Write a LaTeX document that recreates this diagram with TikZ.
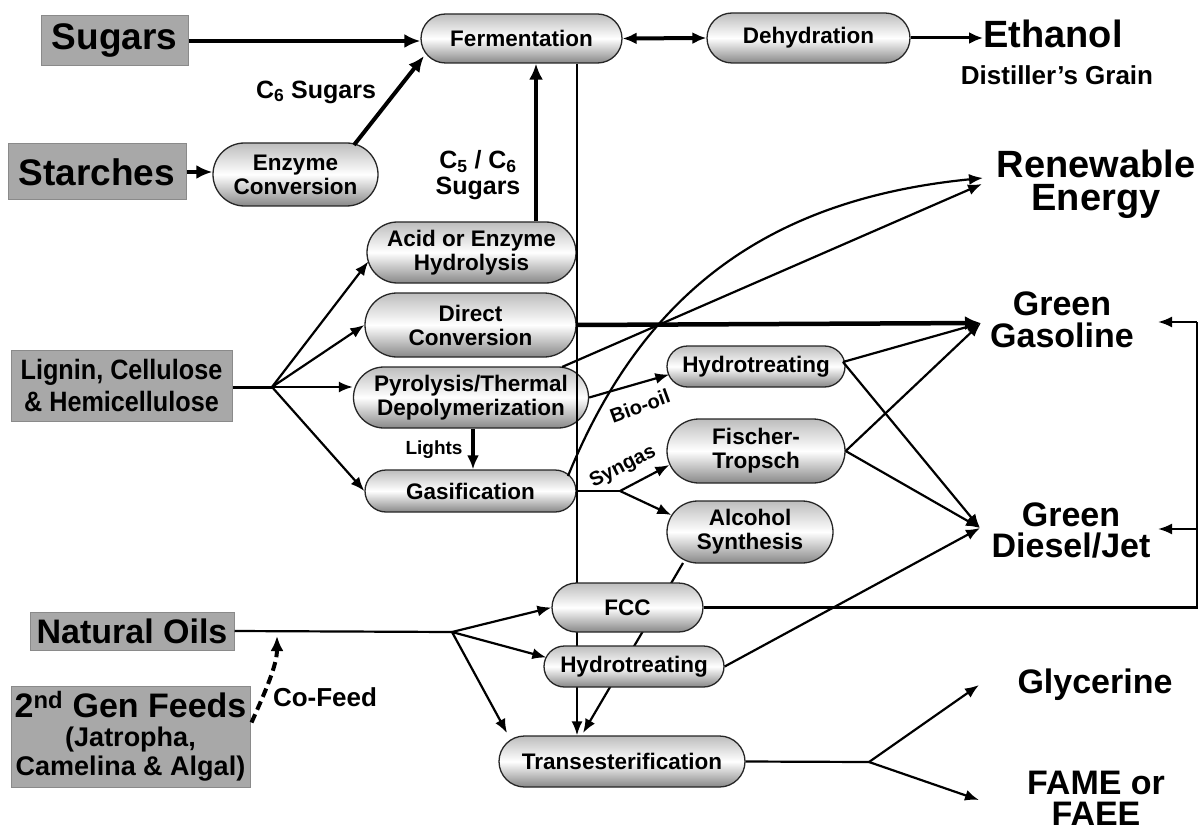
\documentclass[tikz,border=0pt]{standalone}
\usepackage{fontspec}
\setmainfont{Liberation Sans}
\usetikzlibrary{arrows.meta,shapes.misc,calc}
\definecolor{boxgray}{HTML}{A8A8A8}
\definecolor{boxedge}{HTML}{8A8A8A}
\definecolor{pilltop}{HTML}{BDBDBD}
\definecolor{pillbot}{HTML}{888888}
\newcommand{\fsz}[2]{\fontsize{#1}{#2}\selectfont\bfseries}
\begin{document}
\begin{tikzpicture}[x=1pt,y=-1pt,
  feed/.style={fill=boxgray, draw=boxedge, line width=1pt, inner sep=0pt, align=center},
  pill/.style={rounded rectangle, draw=black!85, line width=1.3pt, top color=pilltop, bottom color=pillbot, middle color=white, inner sep=0pt, align=center, font=\fsz{22.5}{24}},
  prod/.style={align=center, inner sep=0pt},
  lab/.style={inner sep=0pt, align=center},
  conn/.style={line width=2.2pt},
  arr/.style={line width=2.2pt, -{Latex[length=14pt,width=11pt]}},
  thk/.style={line width=4.5pt, -{Latex[length=16pt,width=14pt]}},
]
\useasboundingbox (0,0) rectangle (1198,834);
\fill[white] (0,0) rectangle (1198,834);

% feed boxes
\node[feed, minimum width=147pt, minimum height=50pt, font=\fsz{37}{40}] (sugars) at (114.5,41) {Sugars};
\node[feed, minimum width=178pt, minimum height=56pt, font=\fsz{37}{40}] (starches) at (97,172) {Starches};
\node[feed, minimum width=221pt, minimum height=71pt, font=\fsz{28}{32}\addfontfeature{FakeStretch=0.9}] (lignin) at (121.5,385.5) {Lignin, Cellulose\\\& Hemicellulose};
\node[feed, minimum width=204pt, minimum height=38pt, font=\fsz{34}{36}] (oils) at (132,631) {Natural Oils};
\node[feed, minimum width=239pt, minimum height=101pt, font=\fsz{27}{29}] (gen2) at (130.5,736.5) {{\fsz{34}{30}2\textsuperscript{nd} Gen Feeds}\\(Jatropha,\\Camelina \& Algal)};

% upper pills
\node[pill, minimum width=201pt, minimum height=49pt] (ferm) at (521.5,38.5) {Fermentation};
\node[pill, minimum width=203pt, minimum height=50pt] (dehyd) at (808.5,38) {Dehydration};
\node[pill, minimum width=165pt, minimum height=63pt] (enz) at (295.5,174.5) {Enzyme\\Conversion};
\node[pill, minimum width=209pt, minimum height=61pt] (acid) at (471.5,252.5) {Acid or Enzyme\\Hydrolysis};
\node[pill, minimum width=211pt, minimum height=64pt] (direct) at (470.5,325) {Direct\\Conversion};
\node[pill, minimum width=235pt, minimum height=61pt] (pyro) at (471,397.5) {Pyrolysis/Thermal\\Depolymerization};
\node[pill, minimum width=211pt, minimum height=42pt] (gasif) at (470.5,491) {Gasification};
\node[pill, minimum width=178pt, minimum height=41pt] (hydro1) at (756,366.5) {Hydrotreating};
\node[pill, minimum width=178pt, minimum height=64pt] (ft) at (756,451) {Fischer-\\Tropsch};
\node[pill, minimum width=166pt, minimum height=62pt] (alc) at (750,532) {Alcohol\\Synthesis};
\node[pill, minimum width=246pt, minimum height=51pt] (trans) at (622,761.5) {Transesterification};

% products
\node[prod, font=\fsz{38}{40}] (ethanol) at (1053,34) {Ethanol};
\node[prod, font=\fsz{26}{28}] (grain) at (1057,75) {Distiller’s Grain};
\node[prod, font=\fsz{38}{33}] (renew) at (1096,184) {Renewable\\Energy};
\node[prod, font=\fsz{34}{32}] (gasol) at (1062,320) {Green\\Gasoline};
\node[prod, font=\fsz{34}{31}] (diesel) at (1071,530) {Green\\Diesel/Jet};
\node[prod, font=\fsz{34}{36}] (glyc) at (1095,685) {Glycerine};
\node[prod, font=\fsz{34}{31}] (fame) at (1096,798) {FAME or\\FAEE};

% labels
\node[lab, font=\fsz{25}{27}] (c6) at (316,92) {C\textsubscript{6} Sugars};
\node[lab, font=\fsz{25}{26}] (c56) at (478,175) {C\textsubscript{5} / C\textsubscript{6}\\Sugars};
\node[lab, font=\fsz{19}{20}] (lights) at (434,450) {Lights};
\node[lab, font=\fsz{20}{22}, rotate=20] (biooil) at (640,406) {Bio-oil};
\node[lab, font=\fsz{20}{22}, rotate=27] (syngas) at (623,467) {Syngas};
\node[lab, font=\fsz{26}{28}] (cofeed) at (325,697) {Co-Feed};

% helper coordinates
\coordinate (vx) at (577,0);
\coordinate (ax) at (536,0);
\coordinate (lx) at (473,0);
\coordinate (fbx) at (1197,0);
\coordinate (lf) at (272,387);
\coordinate (nf) at (452,632);
\coordinate (sg) at (620,491);
\coordinate (tf) at (869,762);
\coordinate (gg) at (981,323);
\coordinate (gd) at (980,528);
\coordinate (re1) at (982,184);
\coordinate (re2) at (983,178);
\coordinate (ggr) at (1158,322);
\coordinate (gdr) at (1158,529);
\coordinate (enzo) at (354,145);
\coordinate (fermi) at (424,56);
\coordinate (pyro1) at (562,367);
\coordinate (gas1) at (568,476);
\coordinate (h1o) at (843,362);
\coordinate (alco) at (683,563);
\coordinate (transi) at (583,733);
\coordinate (transl) at (507,733);
\coordinate (glyi) at (979,685);
\coordinate (famei) at (979,800);

% connectors drawn behind lower pills
\draw[arr] (vx |- ferm.south) -- (vx |- trans.north);
\draw[arr] (alco) -- (transi);

% lower pills
\node[pill, minimum width=151pt, minimum height=49pt] (fcc) at (627.5,607.5) {FCC};
\node[pill, minimum width=180pt, minimum height=41pt] (hydro2) at (634,666.5) {Hydrotreating};

% top connectors
\draw[thk] (sugars.east) -- (sugars.east -| ferm.west);
\draw[thk] (starches.east) -- (starches.east -| enz.west);
\draw[thk, line width=4pt] (enzo) -- (fermi);
\draw[thk, line width=3.5pt] (ax |- acid.north) -- (ax |- ferm.south);
\draw[line width=4pt, {Latex[length=14pt,width=12pt]}-{Latex[length=14pt,width=12pt]}] (ferm.east) -- (dehyd.west);
\draw[line width=3pt, -{Latex[length=14pt,width=12pt]}] (dehyd.east) -- (dehyd.east -| ethanol.west);

% lignin fan
\draw[line width=3pt] (lf -| lignin.east) -- (lf);
\draw[arr] (lf) -- ($(acid.west)+(2,9)$);
\draw[arr] (lf) -- (direct.west);
\draw[arr] (lf) -- (lf -| pyro.west);
\draw[arr] (lf) -- (gasif.west);
\draw[line width=3.5pt, -{Latex[length=14pt,width=12pt]}] (lx |- pyro.south) -- (lx |- gasif.north);

% to renewable energy and gasoline
\draw[thk] (direct.east) -- (gg);
\draw[arr] (pyro1) -- (re1);
\draw[arr] (gas1) .. controls (640,300) and (760,200) .. (re2);

% bio-oil and syngas
\draw[arr] (pyro.east) -- ($(hydro1.west)+(3,8)$);
\draw[conn] (gasif.east) -- (sg);
\draw[arr] (sg) -- ($(ft.west)+(3,14)$);
\draw[arr] (sg) -- ($(alc.west)+(5,-17)$);

% to products
\draw[arr] (h1o) -- (gg);
\draw[arr] (h1o) -- (gd);
\draw[arr] (ft.east) -- (gg);
\draw[arr] (ft.east) -- (gd);
\draw[arr] (hydro2.east) -- (gd);

% FCC recycle
\draw[conn] (fcc.east) -| (fbx |- ggr);
\draw[arr] (fbx |- ggr) -- (ggr);
\draw[arr] (fbx |- gdr) -- (gdr);

% natural oils
\draw[conn] (oils.east) -- (nf);
\draw[arr] (nf) -- (fcc.west);
\draw[arr] (nf) -- ($(hydro2.west)+(3,-9)$);
\draw[arr] (nf) -- (transl);
\draw[line width=4pt, dash pattern=on 9pt off 5pt, -{Latex[length=15pt,width=13pt]}] ($(gen2.east)+(1,-14)$) .. controls (266,690) and (277,665) .. (277,636);

% transesterification products
\draw[conn] (trans.east) -- (tf);
\draw[arr] (tf) -- (glyi);
\draw[arr] (tf) -- (famei);
\end{tikzpicture}
\end{document}
